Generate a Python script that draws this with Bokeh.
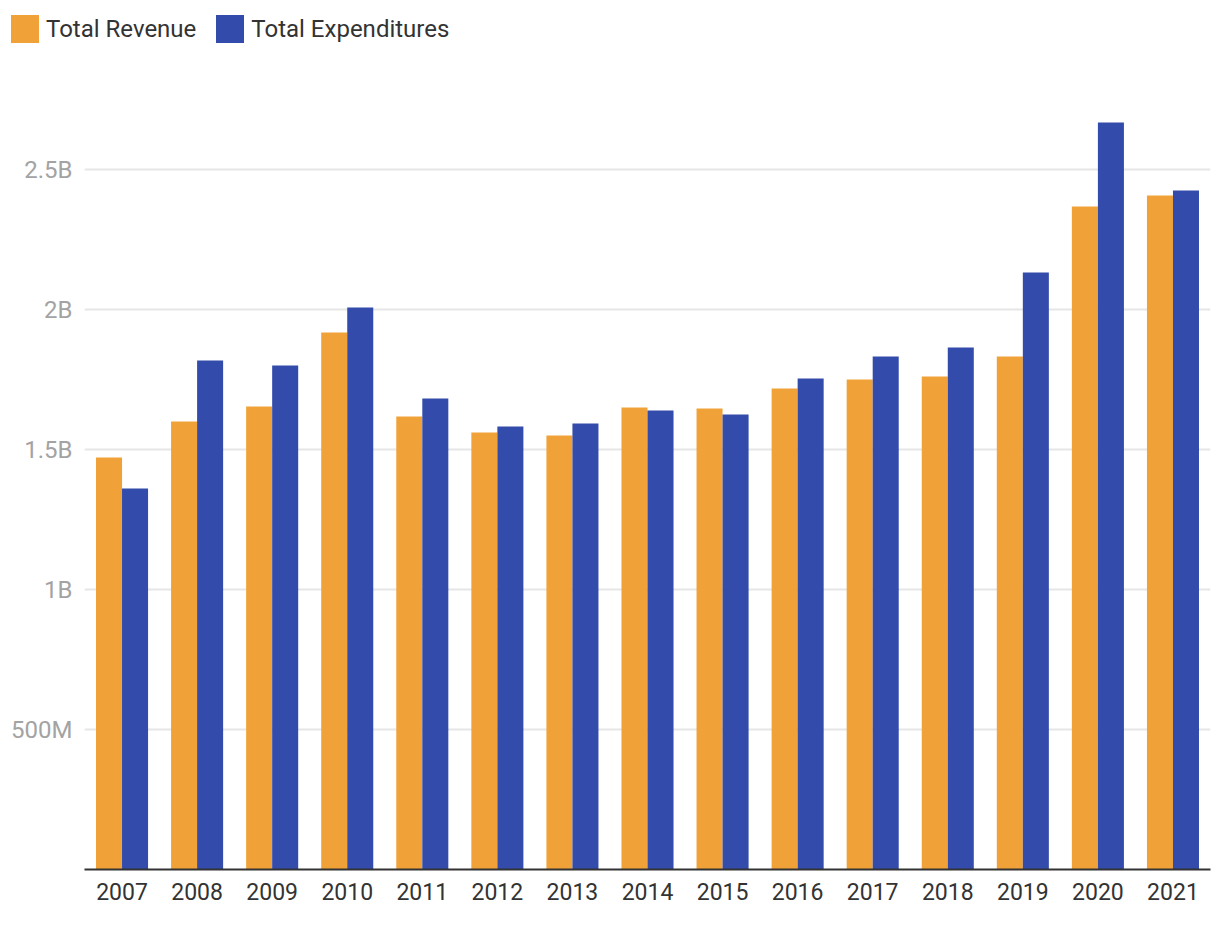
from bokeh.plotting import figure
from bokeh.models import ColumnDataSource, FactorRange, Range1d, FixedTicker, Legend, LegendItem
from bokeh.layouts import column, row
from bokeh.transform import dodge
from bokeh.embed import file_html
from bokeh.resources import INLINE

years = ["2007", "2008", "2009", "2010", "2011", "2012", "2013", "2014",
         "2015", "2016", "2017", "2018", "2019", "2020", "2021"]
revenue = [1.471, 1.600, 1.654, 1.918, 1.618, 1.561, 1.550, 1.650,
           1.646, 1.718, 1.750, 1.761, 1.832, 2.368, 2.407]  # billions
expenditures = [1.361, 1.818, 1.800, 2.007, 1.682, 1.582, 1.593, 1.639,
                1.625, 1.754, 1.832, 1.864, 2.132, 2.668, 2.425]  # billions
y_ticks = [0.5, 1.0, 1.5, 2.0, 2.5]
y_tick_labels = ["500M", "1B", "1.5B", "2B", "2.5B"]
series_names = ["Total Revenue", "Total Expenditures"]
colors = ["#F0A238", "#334BAA"]

font = "Roboto"
src = ColumnDataSource(dict(year=years, rev=revenue, exp=expenditures))

# ---- legend strip (top) ----
TOP_H = 60
lg = figure(width=1220, height=TOP_H, x_range=Range1d(0, 1), y_range=Range1d(0, 1),
            output_backend="svg", toolbar_location=None,
            x_axis_location=None, y_axis_location=None,
            min_border=0, min_border_left=0, min_border_right=0,
            min_border_top=0, min_border_bottom=0)
lg.grid.visible = False
lg.outline_line_color = None
# zero-height proxy renderers used only for the legend swatches
proxy = ColumnDataSource(dict(x=[0.5], top=[0]))
lr1 = lg.vbar(x="x", top="top", width=0.01, source=proxy, color=colors[0], line_color=None)
lr2 = lg.vbar(x="x", top="top", width=0.01, source=proxy, color=colors[1], line_color=None)
legend = Legend(items=[LegendItem(label=series_names[0], renderers=[lr1]),
                       LegendItem(label=series_names[1], renderers=[lr2])],
                orientation="horizontal", location=(7, 14),
                glyph_width=35, glyph_height=35, label_height=35,
                label_standoff=4, spacing=16, padding=0, margin=0,
                border_line_color=None, background_fill_alpha=0,
                label_text_font=font, label_text_font_size="24px",
                label_text_color="#333333")
lg.add_layout(legend, "center")

# ---- main chart ----
p = figure(width=1220, height=926 - TOP_H, x_range=FactorRange(*years),
           y_range=Range1d(0, 2.8), output_backend="svg", toolbar_location=None,
           min_border_left=84, min_border_right=10, min_border_top=85 - TOP_H,
           min_border_bottom=57)
p.outline_line_color = None
p.background_fill_color = "white"
p.border_fill_color = "white"

bw = 26 / 75
p.vbar(x=dodge("year", -bw / 2, range=p.x_range), top="rev", width=bw,
       source=src, color=colors[0], line_color=None)
p.vbar(x=dodge("year", bw / 2, range=p.x_range), top="exp", width=bw,
       source=src, color=colors[1], line_color=None)

# y axis
p.yaxis.ticker = FixedTicker(ticks=y_ticks)
p.yaxis.major_label_overrides = {t: l for t, l in zip(y_ticks, y_tick_labels)}
p.yaxis.axis_line_color = None
p.yaxis.major_tick_line_color = None
p.yaxis.minor_tick_line_color = None
p.yaxis.major_tick_out = 0
p.yaxis.major_tick_in = 0
p.yaxis.major_label_standoff = 12
p.yaxis.major_label_text_font = font
p.yaxis.major_label_text_font_size = "24px"
p.yaxis.major_label_text_color = "#A3A3A3"

p.ygrid.ticker = FixedTicker(ticks=y_ticks)
p.ygrid.grid_line_color = "#E6E6E6"
p.ygrid.grid_line_width = 2
p.xgrid.grid_line_color = None

# x axis
p.xaxis.axis_line_color = "#333333"
p.xaxis.axis_line_width = 2
p.xaxis.major_tick_line_color = None
p.xaxis.major_tick_out = 0
p.xaxis.major_tick_in = 0
p.xaxis.major_label_standoff = 13
p.xaxis.major_label_text_font = font
p.xaxis.major_label_text_font_size = "23px"
p.xaxis.major_label_text_color = "#333333"

layout = column(row(lg), p, spacing=0)
open("out.html", "w").write(file_html(layout, INLINE))
